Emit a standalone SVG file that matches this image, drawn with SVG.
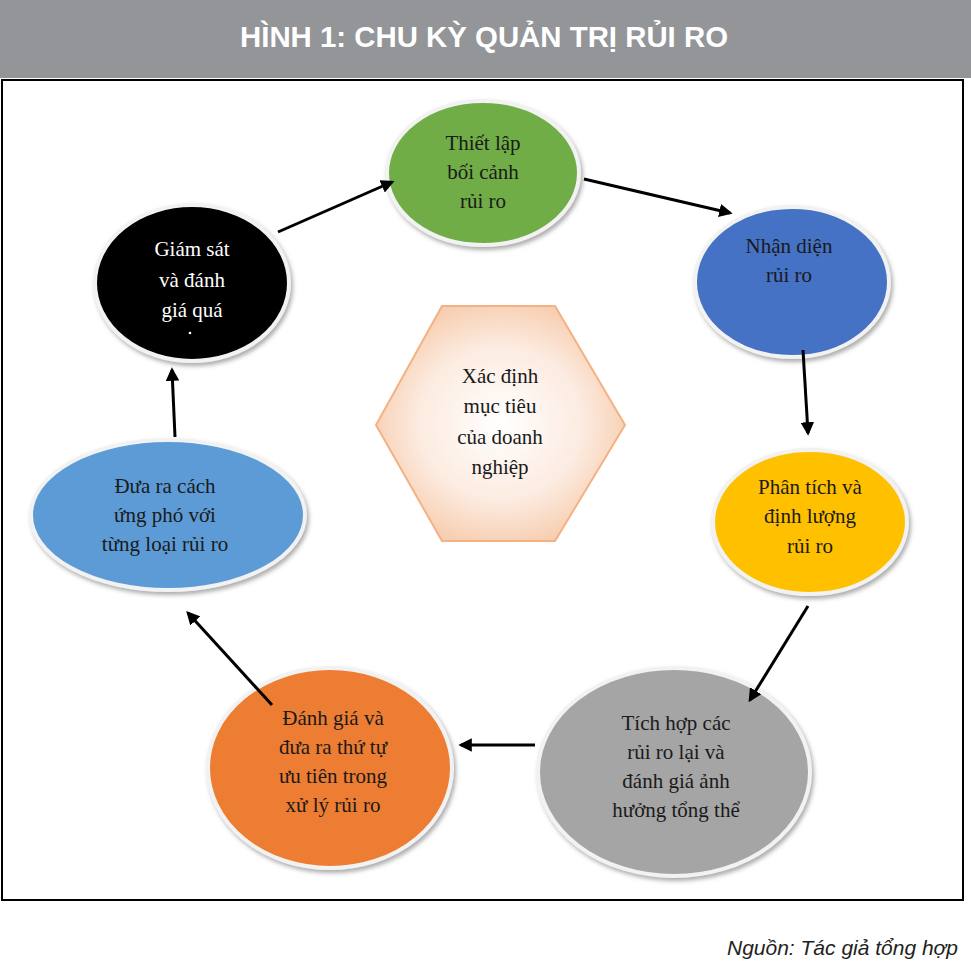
<svg xmlns="http://www.w3.org/2000/svg" width="971" height="973" viewBox="0 0 971 973">
<style>
.node ellipse{stroke:#f2f2f2;stroke-width:4;filter:url(#sh)}
.t{font-family:"Liberation Serif","DejaVu Serif",serif;font-size:21px;text-anchor:middle;fill:#1a1a1a}
.w{fill:#ffffff}
.conn line{stroke:#000;stroke-width:3;marker-end:url(#ah)}
</style>
<defs>
<filter id="sh" x="-10%" y="-10%" width="125%" height="130%">
<feDropShadow dx="2" dy="3" stdDeviation="2" flood-color="#777" flood-opacity="0.6"/>
</filter>
<radialGradient id="hx" cx="50%" cy="50%" r="60%">
<stop offset="0" stop-color="#ffffff"/>
<stop offset="0.55" stop-color="#fcebe0"/>
<stop offset="1" stop-color="#f5c4a0"/>
</radialGradient>
<marker id="ah" viewBox="0 0 10 10" refX="8" refY="5" markerWidth="4.5" markerHeight="4.5" orient="auto">
<path d="M0,0 L10,5 L0,10 z" fill="#000"/>
</marker>
</defs>
<rect x="0" y="0" width="971" height="973" fill="#fff"/>
<rect x="0" y="0" width="971" height="78" fill="#939598"/>
<text x="484" y="47" font-family="'Liberation Sans Narrow','Liberation Sans',sans-serif" font-size="30" font-weight="bold" fill="#fff" text-anchor="middle" textLength="488" lengthAdjust="spacingAndGlyphs">HÌNH 1: CHU KỲ QUẢN TRỊ RỦI RO</text>
<rect x="2" y="80" width="961" height="820" fill="#fff" stroke="#000" stroke-width="2"/>

<g class="node" id="n-thietlap">
<ellipse cx="483" cy="173" rx="96" ry="72" fill="#70ad47"/>
<text class="t" x="483" y="150">Thiết lập</text>
<text class="t" x="483" y="179">bối cảnh</text>
<text class="t" x="483" y="208">rủi ro</text>
</g>
<g class="node" id="n-nhandien">
<ellipse cx="792" cy="282" rx="97" ry="75" fill="#4472c4"/>
<text class="t" x="789" y="253">Nhận diện</text>
<text class="t" x="789" y="282">rủi ro</text>
</g>
<g class="node" id="n-phantich">
<ellipse cx="810" cy="522" rx="97" ry="72" fill="#ffc000"/>
<text class="t" x="810" y="494">Phân tích và</text>
<text class="t" x="810" y="523">định lượng</text>
<text class="t" x="810" y="553">rủi ro</text>
</g>
<g class="node" id="n-tichhop">
<ellipse cx="674" cy="772" rx="136" ry="104" fill="#a5a5a5"/>
<text class="t" x="676" y="730">Tích hợp các</text>
<text class="t" x="676" y="759">rủi ro lại và</text>
<text class="t" x="676" y="788">đánh giá ảnh</text>
<text class="t" x="676" y="817">hưởng tổng thể</text>
</g>
<g class="node" id="n-danhgia">
<ellipse cx="330" cy="768" rx="122" ry="100" fill="#ed7d31"/>
<text class="t" x="333" y="725">Đánh giá và</text>
<text class="t" x="333" y="754">đưa ra thứ tự</text>
<text class="t" x="333" y="783">ưu tiên trong</text>
<text class="t" x="333" y="812">xử lý rủi ro</text>
</g>
<g class="node" id="n-duara">
<ellipse cx="168" cy="515" rx="137" ry="75" fill="#5b9bd5"/>
<text class="t" x="165" y="493">Đưa ra cách</text>
<text class="t" x="165" y="522">ứng phó với</text>
<text class="t" x="165" y="551">từng loại rủi ro</text>
</g>
<g class="node" id="n-giamsat">
<ellipse cx="192" cy="283" rx="97" ry="78" fill="#000"/>
<text class="t w" x="192" y="256">Giám sát</text>
<text class="t w" x="192" y="287">và đánh</text>
<text class="t w" x="192" y="317">giá quá</text>
<circle cx="190" cy="333" r="1.3" fill="#fff"/>
</g>
<g id="n-muctieu">
<polygon points="442,306 555,306 625,425 555,541 442,541 376,425" fill="url(#hx)" stroke="#f4b183" stroke-width="2"/>
<text class="t" x="500" y="383">Xác định</text>
<text class="t" x="500" y="413">mục tiêu</text>
<text class="t" x="500" y="444">của doanh</text>
<text class="t" x="500" y="474">nghiệp</text>
</g>

<g class="conn" id="connectors">
<line x1="278" y1="232" x2="392" y2="182"/>
<line x1="584" y1="179" x2="730" y2="213"/>
<line x1="803" y1="350" x2="808" y2="433"/>
<line x1="808" y1="606" x2="750" y2="700"/>
<line x1="535" y1="745" x2="461" y2="745"/>
<line x1="272" y1="705" x2="188" y2="613"/>
<line x1="175" y1="437" x2="172" y2="370"/>
</g>

<text x="958" y="955" font-family="'Liberation Sans Narrow','Liberation Sans',sans-serif" font-size="21" font-style="italic" fill="#231f20" text-anchor="end">Nguồn: Tác giả tổng hợp</text>
</svg>
